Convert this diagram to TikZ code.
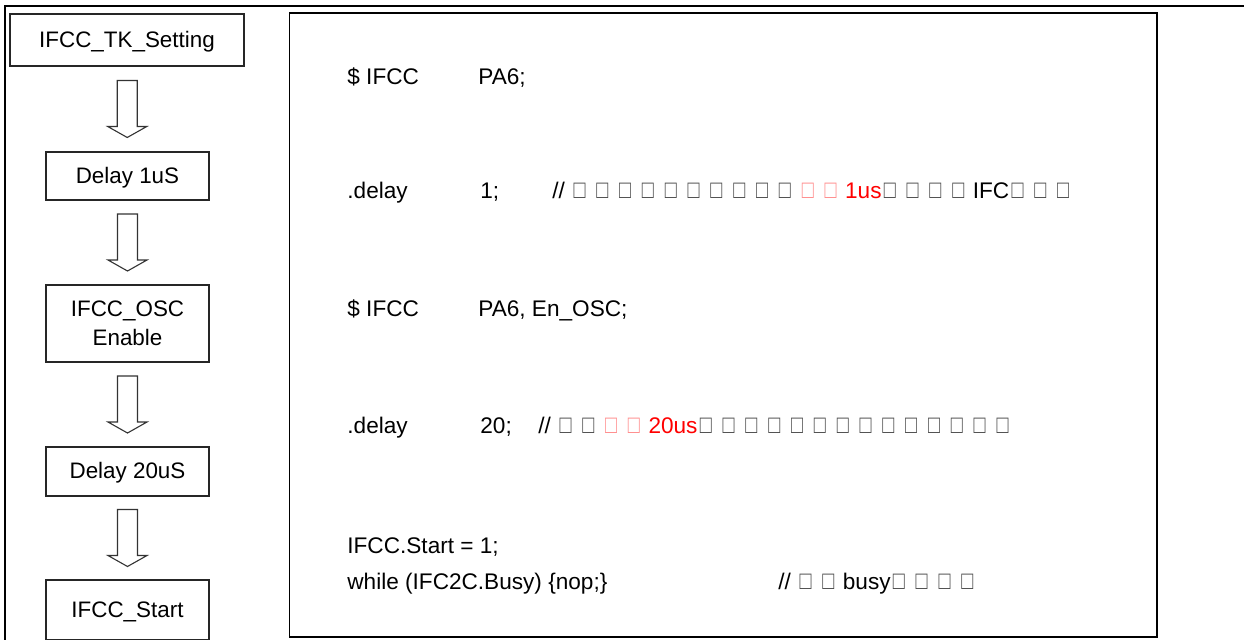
\documentclass[tikz,border=0pt]{standalone}
\usepackage{fontspec}
\setmainfont{Liberation Sans}
\usetikzlibrary{calc}
\newcommand\bx[1][black!70]{\makebox[1.01em][l]{\hspace{0.1em}\textcolor{#1}{\resizebox{0.53em}{0.68em}{□}}}}
\newcommand\flowarrow[2]{%
  \draw[blockarr] ($(#1.south)!0.5!(#2.north)$) ++(-10,-28.5) -- ++(20,0) -- ++(0,46)
    -- ++(9.5,0) -- ++(-19.5,11) -- ++(-19.5,-11) -- ++(9.5,0) -- cycle;}
\tikzset{
  flowbox/.style={draw=black!85, line width=0.6pt, fill=white, align=center,
    font=\fontsize{11.2}{14.5}\selectfont, inner sep=0pt, minimum width=81.5pt},
  oneline/.style={text height=0.72em, text depth=0pt},
  blockarr/.style={draw=black!80, line width=0.55pt, fill=white, line join=miter},
  codebox/.style={draw=black, line width=0.9pt, inner sep=0pt},
  code/.style={font=\fontsize{11.3}{13}\selectfont, inner sep=0pt, anchor=base west},
  frame/.style={draw=black, line width=1.1pt}
}
\begin{document}
\begin{tikzpicture}[x=0.5pt, y=-0.5pt]
\clip (0,0) rectangle (1244,639);
\fill[white] (0,0) rectangle (1244,639);
% outer frame
\draw[frame] (1244,6) -- (5,6) -- (5,650);
% code box
\node[codebox, minimum width=433.75pt, minimum height=312pt] (code) at (723.25,325) {};
% flow boxes
\node[flowbox, oneline, minimum width=117pt, minimum height=26pt] (b1) at (127,40) {IFCC\_TK\_Setting};
\node[flowbox, oneline, minimum height=24pt] (b2) at (127.5,176) {Delay 1uS};
\node[flowbox, minimum height=38.5pt] (b3) at (127.5,323.5) {IFCC\_OSC\\Enable};
\node[flowbox, oneline, minimum height=24.5pt] (b4) at (127.5,471.5) {Delay 20uS};
\node[flowbox, oneline, minimum height=30pt] (b5) at (127.5,610) {IFCC\_Start};
\flowarrow{b1}{b2}
\flowarrow{b2}{b3}
\flowarrow{b3}{b4}
\flowarrow{b4}{b5}
% code lines
\node[code] (l1a) at (347,84) {\$ IFCC};
\node[code] (l1b) at (478,84) {PA6;};
\node[code] (l2a) at (347,198) {.delay};
\node[code] (l2b) at (480,198) {1;};
\node[code] (l2c) at (552,198) {// \bx\bx\bx\bx\bx\bx\bx\bx\bx\bx\bx[red!45]\bx[red!45]\textcolor{red}{1us}\bx\bx\bx\bx IFC\bx\bx\bx};
\node[code] (l3a) at (347,316) {\$ IFCC};
\node[code] (l3b) at (478,316) {PA6, En\_OSC;};
\node[code] (l4a) at (347,433) {.delay};
\node[code] (l4b) at (480,433) {20;};
\node[code] (l4c) at (538,433) {// \bx\bx\bx[red!45]\bx[red!45]\textcolor{red}{20us}\bx\bx\bx\bx\bx\bx\bx\bx\bx\bx\bx\bx\bx\bx};
\node[code] (l5a) at (347,553) {IFCC.Start = 1;};
\node[code] (l6a) at (347,589) {while (IFC2C.Busy) \{nop;\}};
\node[code] (l6b) at (778,589) {// \bx\bx busy\bx\bx\bx\bx};
\end{tikzpicture}
\end{document}
